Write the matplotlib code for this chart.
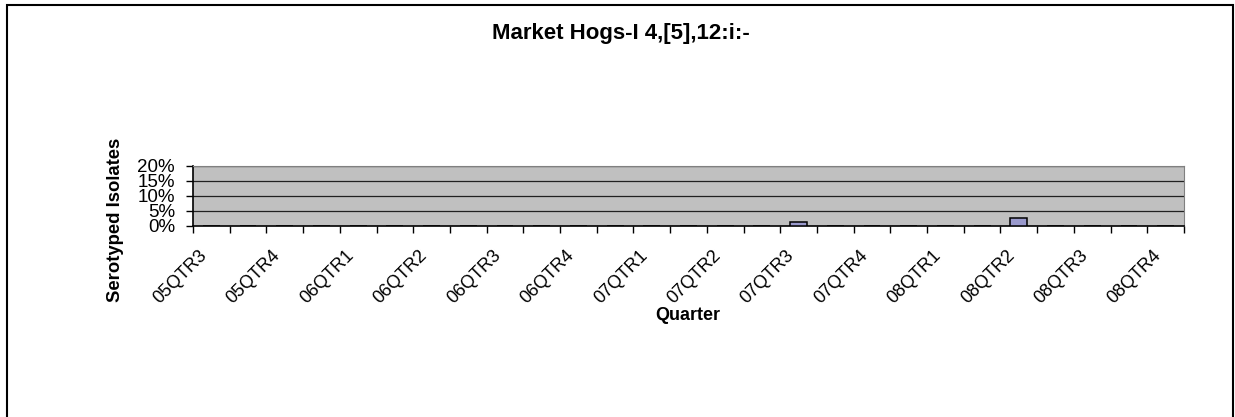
import matplotlib
matplotlib.use('Agg')
import matplotlib.pyplot as plt
from matplotlib.patches import Rectangle
from matplotlib.transforms import offset_copy
import numpy as np

plt.rcParams['font.family'] = ['Liberation Sans', 'DejaVu Sans']

# quarter labels shown under every other category slot
quarters = ['05QTR3', '05QTR4', '06QTR1', '06QTR2', '06QTR3', '06QTR4', '07QTR1',
            '07QTR2', '07QTR3', '07QTR4', '08QTR1', '08QTR2', '08QTR3', '08QTR4']
n_slots = 2 * len(quarters) - 1
# percent of serotyped isolates per slot (only two non-zero)
values = [0.0] * n_slots
values[16] = 1.3   # 07QTR3
values[22] = 2.6   # 08QTR2
yticks = [0, 5, 10, 15, 20]

W, H = 1235, 417
fig = plt.figure(figsize=(W / 100, H / 100), dpi=100)
fig.patches.append(Rectangle((7 / W, -0.05), (1233 - 7) / W, 1.05 - 5 / H,
                             transform=fig.transFigure, fill=False,
                             edgecolor='black', linewidth=1.5))

ax = fig.add_axes([193 / W, 1 - 226 / H, (1184 - 193) / W, (226 - 165.7) / H])
ax.set_facecolor('#C0C0C0')

x = np.arange(n_slots) + 0.5
ax.bar(x, values, width=0.46, color='#9999CC', edgecolor='black', linewidth=1.1,
       zorder=3)

ax.set_xlim(0, n_slots)
ax.set_ylim(0, 20)
for y in yticks[1:]:
    ax.axhline(y, color='#202020', linewidth=0.9, zorder=1)

ax.set_yticks(yticks)
ax.set_yticklabels([f'{v}%' for v in yticks], fontsize=13.5)
ax.tick_params(axis='y', direction='out', length=5, width=1, pad=8)

ax.set_xticks(np.arange(n_slots + 1))
ax.set_xticklabels([])
ax.tick_params(axis='x', direction='out', length=5, width=1)
lab_tr = offset_copy(ax.get_xaxis_transform(), fig=fig, x=-7, y=-27, units='dots')
for i, q in enumerate(quarters):
    ax.text(2 * i + 0.5, 0, q, transform=lab_tr,
            rotation=45, ha='right', va='center', rotation_mode='anchor',
            fontsize=13)

for side in ['top', 'right']:
    ax.spines[side].set_color('#808080')
for side in ['left', 'bottom']:
    ax.spines[side].set_color('black')
    ax.spines[side].set_linewidth(1.2)

fig.text(621 / W, 1 - 34 / H, 'Market Hogs-I 4,[5],12:i:-', ha='center', va='center',
         fontsize=16, fontweight='bold')
fig.text(688 / W, 1 - 315 / H, 'Quarter', ha='center', va='center',
         fontsize=13, fontweight='bold')
fig.text(115 / W, 1 - 220 / H, 'Serotyped Isolates', ha='center', va='center',
         rotation=90, fontsize=13.3, fontweight='bold')

fig.savefig('out.png', dpi=100)
